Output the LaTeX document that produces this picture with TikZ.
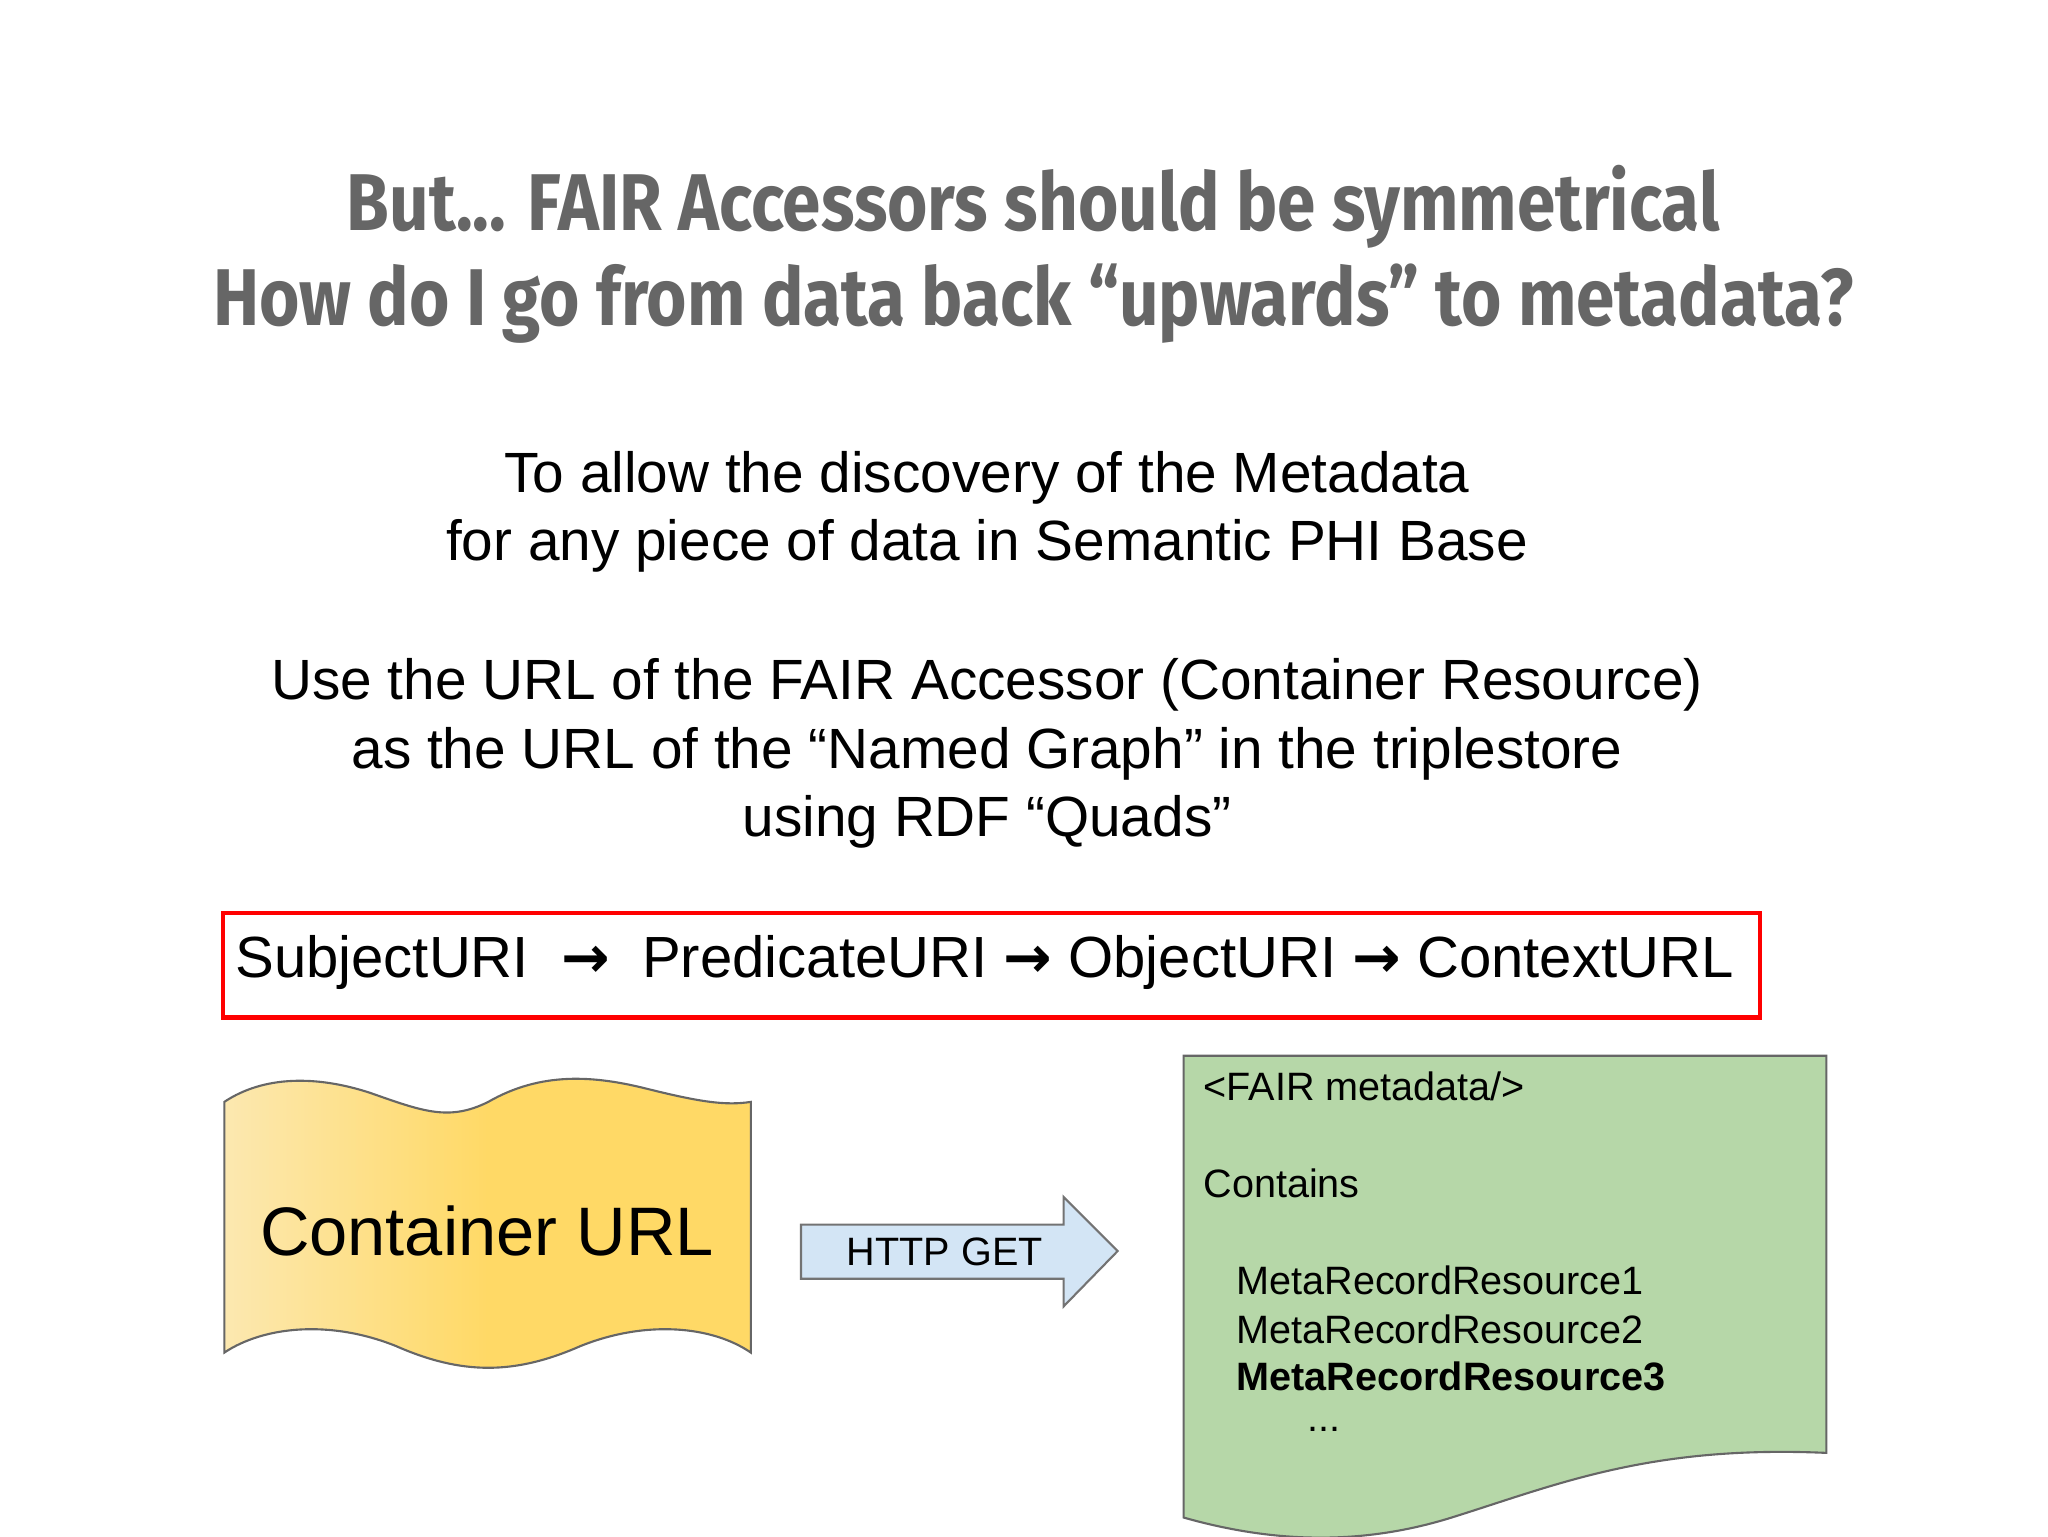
\documentclass[tikz,border=0pt]{standalone}
\usepackage{fontspec}
\setmainfont{Liberation Sans}
\newfontfamily\titlefont[FakeStretch=0.86]{Fira Sans}
\newfontfamily\arrfont{DejaVu Sans}
\definecolor{yel}{HTML}{FFD966}
\definecolor{yell}{HTML}{FCE8B0}
\definecolor{grn}{HTML}{B6D7A8}
\definecolor{blu}{HTML}{D3E5F5}
\begin{document}
\begin{tikzpicture}[x=0.5pt,y=-0.5pt,
  tline/.style={font=\titlefont\bfseries\fontsize{30.5}{36}\selectfont,text=black!60},
  body/.style={font=\fontsize{21.5}{25}\selectfont},
  doc/.style={font=\fontsize{15}{18}\selectfont,anchor=west}]
\useasboundingbox (0,0) rectangle (1552,1164);
\node[tline] (t1) at (783,157) {But... FAIR Accessors should be symmetrical};
\node[tline] (t2) at (783,230) {How do I go from data back “upwards” to metadata?};
\node[body] (b1) at (748,362) {To allow the discovery of the Metadata};
\node[body] (b2) at (748,414) {for any piece of data in Semantic PHI Base};
\node[body] (b3) at (748,519) {Use the URL of the FAIR Accessor (Container Resource)};
\node[body] (b4) at (748,571) {as the URL of the “Named Graph” in the triplestore};
\node[body] (b5) at (748,623) {using RDF “Quads”};
\draw[red,line width=1.6pt] (169,692) rectangle (1334,771);
\node[anchor=west,font=\fontsize{22}{26}\selectfont,inner sep=0] (q) at (178,729)
 {SubjectURI \ {\arrfont\bfseries→} \ PredicateURI {\arrfont\bfseries→} ObjectURI {\arrfont\bfseries→} ContextURL};
% yellow wavy
\draw[left color=yell,right color=yel,middle color=yel,draw=black!60,line width=0.8pt]
 (170,835) .. controls (200,815) and (240,815) .. (280,828)
 .. controls (320,842) and (340,850) .. (370,835)
 .. controls (410,812) and (450,815) .. (490,825)
 .. controls (530,835) and (550,838) .. (569,835)
 -- (569,1025) .. controls (540,1005) and (490,1000) .. (440,1020)
 .. controls (390,1042) and (350,1042) .. (300,1020)
 .. controls (250,1000) and (200,1005) .. (170,1025) -- cycle;
\node[font=\fontsize{26}{30}\selectfont] (c) at (369,933) {Container URL};
% arrow
\draw[fill=blu,draw=black!55,line width=0.8pt]
 (607,928) -- (806,928) -- (806,907) -- (847,948) -- (806,990) -- (806,969) -- (607,969) -- cycle;
\node[font=\fontsize{15}{18}\selectfont] (h) at (716,949) {HTTP GET};
% green doc
\draw[fill=grn,draw=black!60,line width=0.8pt]
 (897,800) -- (1384,800) -- (1384,1101)
 .. controls (1250,1095) and (1180,1125) .. (1100,1150)
 .. controls (1020,1175) and (950,1165) .. (897,1150) -- cycle;
\node[doc] (d1) at (905,823) {<FAIR metadata/>};
\node[doc] (d2) at (905,897) {Contains};
\node[doc] (d3) at (930,970) {MetaRecordResource1};
\node[doc] (d4) at (930,1007) {MetaRecordResource2};
\node[doc,font=\fontsize{15}{18}\selectfont\bfseries] (d5) at (930,1043) {MetaRecordResource3};
\node[doc] (d6) at (984,1083) {...};
\end{tikzpicture}
\end{document}
